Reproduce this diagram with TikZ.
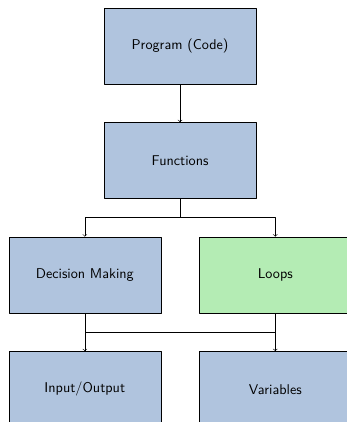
\documentclass[tikz,border=0pt]{standalone}
\usetikzlibrary{positioning}
\definecolor{boxblue}{RGB}{176,196,222}
\definecolor{boxgreen}{RGB}{180,236,180}
\begin{document}
\begin{tikzpicture}[font=\sffamily\fontsize{10.6}{13}\selectfont, line join=round, >=to,
    topic/.style={draw, fill=boxblue, minimum width=4cm, minimum height=2cm},
    node distance=1cm and 1cm]
            \useasboundingbox (-4.74,1.21) rectangle (4.37,-9.9);
            \node[topic] (prog) at (0,0) {Program (Code)};
            \node[topic, below=of prog] (func) {Functions};
            \node[topic, below left=1cm and 0.5cm of func.south, anchor=north east] (dec) {Decision Making};
            \node[topic, fill=boxgreen, below right=1cm and 0.5cm of func.south, anchor=north west] (loop) {Loops};
            \node[topic, below=of dec] (io) {Input/Output};
            \node[topic, below=of loop] (var) {Variables};
            \draw[->] (prog) -- (func);
            \draw[->] (func.south) -- ++(0,-0.5) -| (dec.north);
            \draw[->] (func.south) -- ++(0,-0.5) -| (loop.north);
            \draw[->] (dec.south) -- ++(0,-0.5) -| (var.north);
            \draw[->] (loop.south) -- ++(0,-0.5) -| (io.north);
        \end{tikzpicture}
\end{document}
